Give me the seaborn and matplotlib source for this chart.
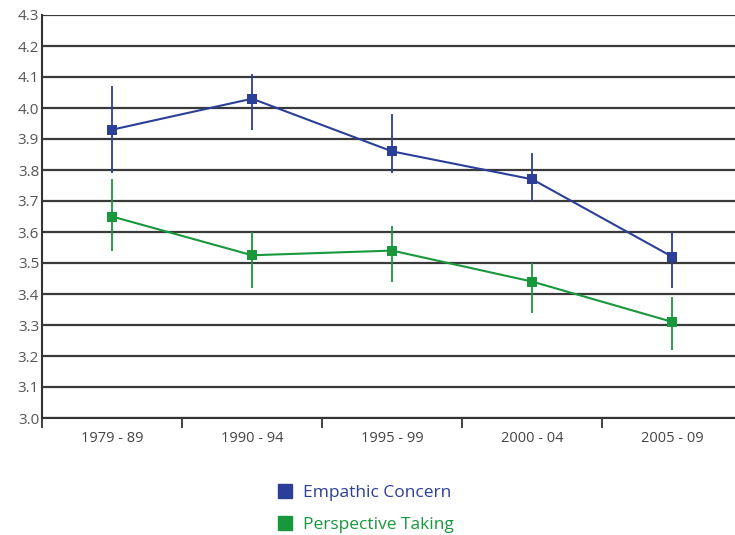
import matplotlib
matplotlib.use("Agg")
import matplotlib.pyplot as plt
import seaborn as sns
import pandas as pd
import numpy as np
from matplotlib.lines import Line2D

periods = ["1979 - 89", "1990 - 94", "1995 - 99", "2000 - 04", "2005 - 09"]
ec_mean = [3.93, 4.03, 3.86, 3.77, 3.52]
ec_low = [3.79, 3.93, 3.79, 3.70, 3.42]
ec_high = [4.07, 4.11, 3.98, 3.855, 3.60]
pt_mean = [3.65, 3.525, 3.54, 3.44, 3.31]
pt_low = [3.54, 3.42, 3.44, 3.34, 3.22]
pt_high = [3.77, 3.60, 3.62, 3.50, 3.39]
y_ticks = [3.0, 3.1, 3.2, 3.3, 3.4, 3.5, 3.6, 3.7, 3.8, 3.9, 4.0, 4.1, 4.2, 4.3]

BLUE = "#2b3f98"
GREEN = "#18973d"

sns.set_theme(style="white")
plt.rcParams["font.family"] = ["Open Sans", "DejaVu Sans"]

fig = plt.figure(figsize=(7.35, 5.35), dpi=100)
ax = fig.add_axes([42 / 735, 1 - 418 / 535, 1 - 42 / 735 + 0.01, (418 - 15) / 535])

xpos = np.arange(len(periods))
df = pd.DataFrame({
    "x": np.concatenate([xpos, xpos]),
    "value": ec_mean + pt_mean,
    "series": ["Empathic Concern"] * 5 + ["Perspective Taking"] * 5,
})

for yv in y_ticks:
    ax.axhline(yv, color="#3a3a3a", lw=1.6, zorder=1)

ax.vlines(xpos, pt_low, pt_high, color=GREEN, lw=1.3, zorder=3)
ax.vlines(xpos, ec_low, ec_high, color=BLUE, lw=1.3, zorder=3)

sns.lineplot(data=df, x="x", y="value", hue="series",
             palette={"Empathic Concern": BLUE, "Perspective Taking": GREEN},
             marker="s", markersize=6.5, markeredgewidth=0, lw=1.5,
             legend=False, ax=ax, zorder=4)

ax.set_xlim(-0.5, 4.5)
ax.set_ylim(3.0, 4.3)
ax.set_yticks(y_ticks)
ax.set_yticklabels([f"{v:.1f}" for v in y_ticks], color="#555555", fontsize=11)
ax.set_xticks(xpos)
ax.set_xticklabels(periods, color="#444444", fontsize=10.5)
ax.set_xticks(np.arange(-0.5, 4.6, 1.0), minor=True)
ax.tick_params(axis="x", which="major", bottom=False, length=0, pad=9)
ax.tick_params(axis="x", which="minor", bottom=True, length=7, width=1.3,
               color="#333333", direction="out")
ax.tick_params(axis="y", length=0, pad=2)
ax.set_xlabel("")
ax.set_ylabel("")
for s in ["top", "right"]:
    ax.spines[s].set_visible(False)
ax.spines["left"].set_color("#333333")
ax.spines["left"].set_linewidth(1.5)
ax.spines["bottom"].set_color("#333333")
ax.spines["bottom"].set_linewidth(1.5)
ax.grid(False)

handles = [
    Line2D([], [], marker="s", ls="none", color=BLUE, markersize=10),
    Line2D([], [], marker="s", ls="none", color=GREEN, markersize=10),
]
leg = fig.legend(handles, ["Empathic Concern", "Perspective Taking"],
                 loc="center left", bbox_to_anchor=(259 / 735, 1 - 509 / 535),
                 frameon=False, fontsize=12.5, handletextpad=0.45, labelspacing=0.95,
                 handlelength=1.2)
for t, c in zip(leg.get_texts(), [BLUE, GREEN]):
    t.set_color(c)

fig.savefig("out.png", dpi=100)
